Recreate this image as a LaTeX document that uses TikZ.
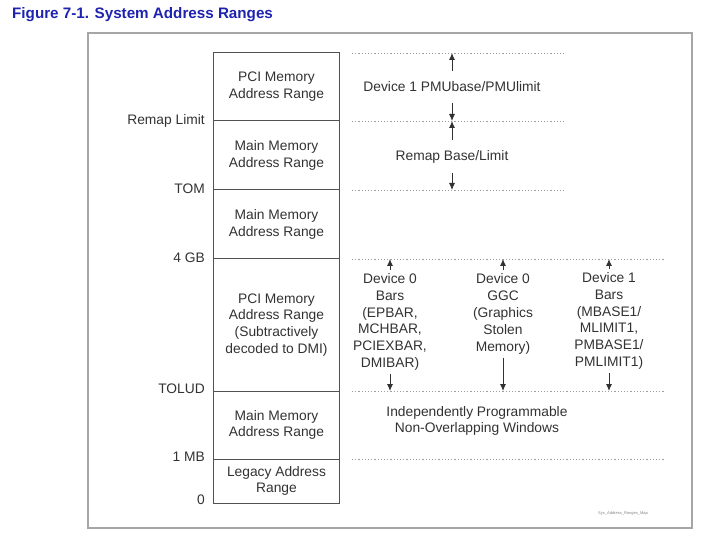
\documentclass[tikz,border=0pt]{standalone}
\usepackage{fontspec}
\setmainfont{Liberation Sans}
\usetikzlibrary{arrows.meta}
\definecolor{titleblue}{RGB}{30,35,175}
\definecolor{ink}{RGB}{50,50,50}
\tikzset{
	region/.style={draw=ink!85, line width=1pt, minimum width=126pt, inner sep=0pt, align=center, text=ink, font=\fontsize{13.8}{16.8}\selectfont},
	addrlabel/.style={anchor=east, inner sep=0pt, text=ink, font=\fontsize{13.8}{16.8}\selectfont},
	winlabel/.style={align=center, text=ink, font=\fontsize{13.8}{16.8}\selectfont},
	guide/.style={draw=gray!75, line width=0.9pt, dash pattern=on 1.2pt off 2pt},
	arr/.style={-{Latex[length=7pt,width=6pt]}, draw=ink, line width=0.9pt}
}
\begin{document}
\begin{tikzpicture}[x=1pt, y=-1pt]
	\useasboundingbox (0,0) rectangle (720,545);
	\node[anchor=west, inner sep=0pt, text=titleblue, font=\bfseries\fontsize{15.2}{18}\selectfont] (title) at (12,15) {Figure 7-1. System Address Ranges};
	\draw[gray!70, line width=1.1pt] (88,33) rectangle (692,528);

	% the address map column
	\node[region, minimum height=68pt] (pcihigh) at (276.5,87) {PCI Memory\\Address Range};
	\node[region, minimum height=69pt] (mainhigh) at (276.5,155.5) {Main Memory\\Address Range};
	\node[region, minimum height=69pt] (mainmid) at (276.5,224.5) {Main Memory\\Address Range};
	\node[region, minimum height=132pt] (pcilow) at (276.5,325) {PCI Memory\\Address Range\\(Subtractively\\decoded to DMI)};
	\node[region, minimum height=68pt] (mainlow) at (276.5,425) {Main Memory\\Address Range};
	\node[region, minimum height=44pt] (legacy) at (276.5,481) {Legacy Address\\Range};

	\node[addrlabel] (lremap) at (205,121) {Remap Limit};
	\node[addrlabel] (ltom) at (205,189) {TOM};
	\node[addrlabel] (lfourgb) at (205,258) {4 GB};
	\node[addrlabel] (ltolud) at (205,389) {TOLUD};
	\node[addrlabel] (lonemb) at (205,457) {1 MB};
	\node[addrlabel] (lzero) at (205,500) {0};

	\coordinate (top) at (352,53);
	\coordinate (remap) at (352,121);
	\coordinate (tom) at (352,190);
	\coordinate (fourgb) at (352,259);
	\coordinate (tolud) at (352,391);
	\coordinate (onemb) at (352,459);
	\draw[guide] (top) -- +(213,0);
	\draw[guide] (remap) -- +(213,0);
	\draw[guide] (tom) -- +(213,0);
	\draw[guide] (fourgb) -- +(313,0);
	\draw[guide] (tolud) -- +(313,0);
	\draw[guide] (onemb) -- +(313,0);

	% windows
	\node[winlabel] (pmu) at (452,87) {Device 1 PMUbase/PMUlimit};
	\node[winlabel] (remapwin) at (452,157) {Remap Base/Limit};
	\draw[arr, shorten <=7pt] (pmu.north) -- (pmu.north |- top);
	\draw[arr, shorten <=7pt] (pmu.south) -- (pmu.south |- remap);
	\draw[arr, shorten <=7pt] (remapwin.north) -- (remapwin.north |- remap);
	\draw[arr, shorten <=6pt] (remapwin.south) -- (remapwin.south |- tom);

	\node[winlabel] (bars0) at (390,322) {Device 0\\Bars\\(EPBAR,\\MCHBAR,\\PCIEXBAR,\\DMIBAR)};
	\node[winlabel] (ggc) at (503,314) {Device 0\\GGC\\(Graphics\\Stolen\\Memory)};
	\node[winlabel] (bars1) at (609,321) {Device 1\\Bars\\(MBASE1/\\MLIMIT1,\\PMBASE1/\\PMLIMIT1)};
	\foreach \n in {bars0,ggc,bars1}{
		\draw[arr] (\n.north) -- (\n.north |- fourgb);
		\draw[arr] (\n.south) -- (\n.south |- tolud);
	}
	\node[winlabel] (indep) at (477,421) {Independently Programmable\\Non-Overlapping Windows};

	\node[text=ink!60, font=\fontsize{4}{5}\selectfont] (figid) at (623,513) {Sys\_Address\_Ranges\_Map};
\end{tikzpicture}
\end{document}
